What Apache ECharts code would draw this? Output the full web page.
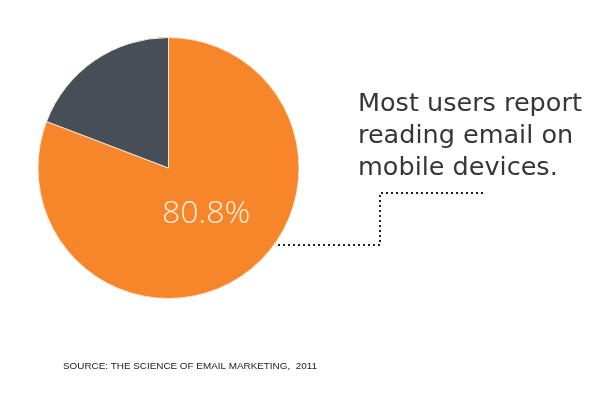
<!DOCTYPE html>
<html>
<head>
<meta charset="utf-8">
<script src="https://cdn.jsdelivr.net/npm/echarts@6/dist/echarts.min.js"></script>
<style>
html,body{margin:0;padding:0;background:#fff;}
#chart{width:599px;height:394px;}
</style>
</head>
<body>
<div id="chart"></div>
<script>
const categories = ['Mobile devices', 'Other'];
const values = [80.8, 19.2];
const sliceColors = ['#f7862a', '#464f58'];
const annotationLines = ['Most users report', 'reading email on', 'mobile devices.'];
const sourceText = 'SOURCE: THE SCIENCE OF EMAIL MARKETING,  2011';

const chart = echarts.init(document.getElementById('chart'));
chart.setOption({
  backgroundColor: '#ffffff',
  animation: false,
  series: [{
    type: 'pie',
    center: [168.5, 168],
    radius: 130.5,
    startAngle: 90,
    clockwise: true,
    data: categories.map((c, i) => ({
      name: c,
      value: values[i],
      itemStyle: { color: sliceColors[i] },
      label: { show: i === 0 }
    })),
    itemStyle: { borderColor: '#f6e6d2', borderWidth: 1 },
    label: {
      position: 'inside',
      formatter: p => p.value.toFixed(1) + '%',
      color: '#fdf1dc',
      fontFamily: 'Open Sans',
      fontWeight: 300,
      fontSize: 32,
      offset: [-1, -10]
    },
    labelLine: { show: false },
    emphasis: { disabled: true }
  }],
  graphic: [
    {
      type: 'text',
      left: 358,
      top: 88,
      style: {
        text: annotationLines.join('\n'),
        font: '25.5px "DejaVu Sans"',
        lineHeight: 32,
        fill: '#363636'
      }
    },
    {
      type: 'polyline',
      shape: { points: [[278, 245], [380, 245], [380, 193], [483, 193]] },
      style: { stroke: '#222', lineWidth: 2, lineDash: [2, 3], fill: null }
    },
    {
      type: 'text',
      left: 63,
      top: 361.5,
      style: {
        text: sourceText,
        font: '9.9px "Liberation Sans"',
        fill: '#222'
      }
    }
  ]
});
</script>
</body>
</html>
